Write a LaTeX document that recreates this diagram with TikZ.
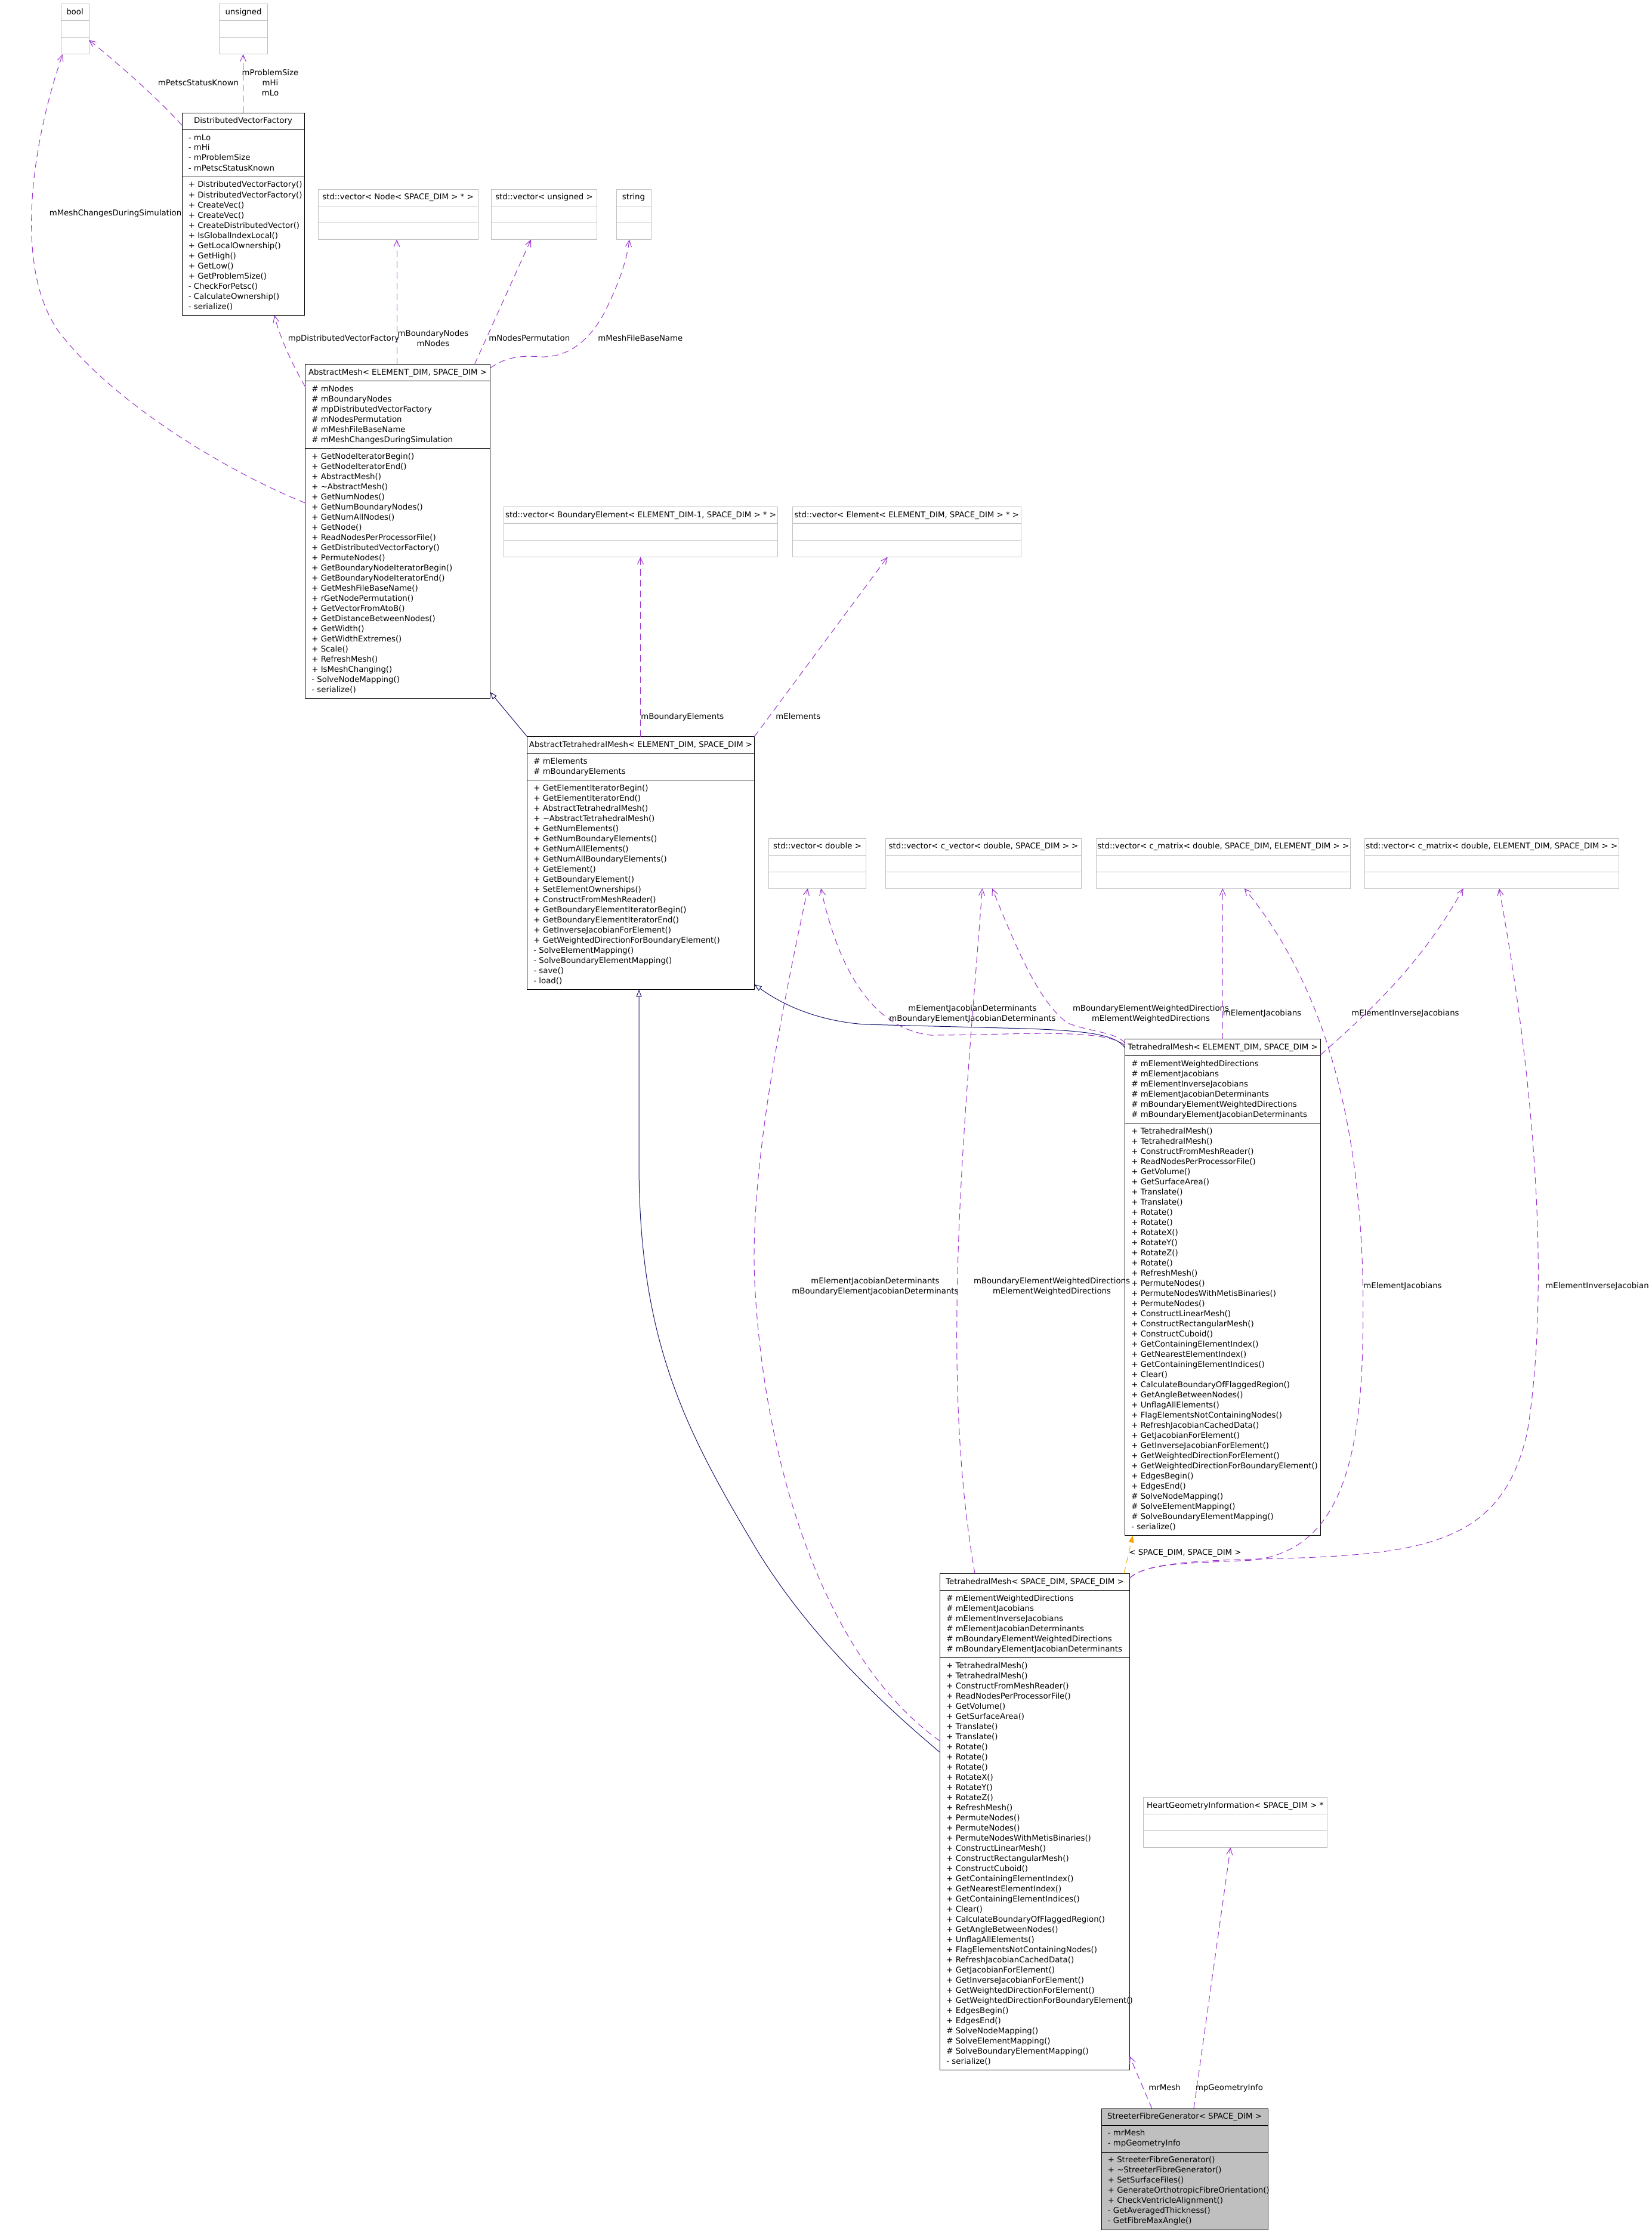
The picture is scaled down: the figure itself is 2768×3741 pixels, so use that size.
\documentclass[tikz,border=0pt]{standalone}
\usepackage{fontspec}
\setmainfont{DejaVu Sans}
\usetikzlibrary{arrows.meta,calc}
\definecolor{usecol}{HTML}{9A32CD}
\definecolor{inhcol}{HTML}{191970}
\definecolor{greyline}{HTML}{BFBFBF}
\definecolor{tmplcol}{HTML}{FFA500}
\newcommand\dfont{\fontsize{6.65pt}{8.5pt}\selectfont}
\tikzset{
  every node/.style={font=\dfont},
  classbox/.style={draw=black, fill=white, line width=0.5pt, inner sep=0, outer sep=0},
  mainbox/.style={draw=black, fill=greyline, line width=0.5pt, inner sep=0, outer sep=0},
  greybox/.style={draw=greyline, fill=white, line width=0.5pt, inner sep=0, outer sep=0},
  classsep/.style={draw=black, line width=0.5pt},
  greysep/.style={draw=greyline, line width=0.5pt},
  row/.style={anchor=west, inner sep=0, text height=5pt, text depth=1.5pt},
  hdr/.style={anchor=center, inner sep=0, text height=5pt, text depth=1.5pt},
  lbl/.style={anchor=west, inner sep=0, text height=5pt, text depth=1.5pt},
  clbl/.style={anchor=center, inner sep=0, align=center},
  usage/.style={draw=usecol, line width=0.5pt, dash pattern=on 5.5pt off 3.5pt, -{Straight Barb[length=5.5pt,width=5pt]}},
  inherit/.style={draw=inhcol, line width=0.5pt, -{Triangle[open,length=6pt,width=4.5pt]}},
  tmpl/.style={draw=tmplcol, line width=0.5pt, dash pattern=on 5.5pt off 3.5pt, -{Triangle[length=6pt,width=4.5pt]}},
}
% #1 style, #2 name, #3 x, #4 y, #5 width, #6 header; rows in \attrs and \meths
\newcommand\umlbox[6]{%
  \xdef\na{0}\xdef\nm{0}%
  \foreach \itm [count=\ci] in \attrs {\xdef\na{\ci}}%
  \foreach \itm [count=\ci] in \meths {\xdef\nm{\ci}}%
  \pgfmathsetmacro\uA{\na*17+11}%
  \pgfmathsetmacro\uH{28+\uA+\nm*17+11}%
  \node[#1, anchor=north west, minimum width=#5*0.5pt, minimum height=\uH*0.5pt] (#2) at (#3,#4) {};
  \draw[classsep] (#3,#4+28) -- ++(#5,0);
  \draw[classsep] (#3,#4+28+\uA) -- ++(#5,0);
  \node[hdr] at (#3+#5/2,#4+14) {#6};
  \foreach \itm [count=\ci] in \attrs {\node[row] at (#3+10.5,#4+42+17*\ci-17) {\itm};}
  \foreach \itm [count=\ci] in \meths {\node[row] at (#3+10.5,#4+42+\uA+17*\ci-17) {\itm};}
}
% #1 name, #2 x, #3 y, #4 width, #5 header
\newcommand\typebox[5]{%
  \node[greybox, anchor=north west, minimum width=#4*0.5pt, minimum height=42pt] (#1) at (#2,#3) {};
  \draw[greysep] (#2,#3+28) -- ++(#4,0);
  \draw[greysep] (#2,#3+56) -- ++(#4,0);
  \node[hdr] at (#2+#4/2,#3+14) {#5};
}
\begin{document}
\begin{tikzpicture}[x=0.5pt,y=-0.5pt]
\useasboundingbox (0,0) rectangle (2768,3741);
\fill[white] (0,0) rectangle (2768,3741);

% ---------- type boxes ----------
\typebox{bool}{102}{7}{47}{bool}
\typebox{uns}{367.5}{7}{81}{unsigned}
\typebox{vnode}{533}{317.5}{268}{std::vector< Node< SPACE\_DIM > * >}
\typebox{vuns}{823.5}{317.5}{177}{std::vector< unsigned >}
\typebox{str}{1033}{317.5}{58}{string}
\typebox{vbel}{844.5}{849.5}{459}{std::vector< BoundaryElement< ELEMENT\_DIM-1, SPACE\_DIM > * >}
\typebox{vel}{1328}{849.5}{383.5}{std::vector< Element< ELEMENT\_DIM, SPACE\_DIM > * >}
\typebox{vdbl}{1288.5}{1405}{163}{std::vector< double >}
\typebox{vcv}{1484.5}{1405}{328}{std::vector< c\_vector< double, SPACE\_DIM > >}
\typebox{cmse}{1837}{1405}{426.5}{std::vector< c\_matrix< double, SPACE\_DIM, ELEMENT\_DIM > >}
\typebox{cmes}{2287}{1405}{426.5}{std::vector< c\_matrix< double, ELEMENT\_DIM, SPACE\_DIM > >}
\typebox{heart}{1916.5}{3012.5}{307.5}{HeartGeometryInformation< SPACE\_DIM > *}

% ---------- class boxes ----------
\def\attrs{- mLo,- mHi,- mProblemSize,- mPetscStatusKnown}%
\def\meths{+ DistributedVectorFactory(),+ DistributedVectorFactory(),+ CreateVec(),+ CreateVec(),%
+ CreateDistributedVector(),+ IsGlobalIndexLocal(),+ GetLocalOwnership(),+ GetHigh(),+ GetLow(),%
+ GetProblemSize(),- CheckForPetsc(),- CalculateOwnership(),- serialize()}%
\umlbox{classbox}{dvf}{305}{189.5}{205}{DistributedVectorFactory}

\def\attrs{\# mNodes,\# mBoundaryNodes,\# mpDistributedVectorFactory,\# mNodesPermutation,%
\# mMeshFileBaseName,\# mMeshChangesDuringSimulation}%
\def\meths{+ GetNodeIteratorBegin(),+ GetNodeIteratorEnd(),+ AbstractMesh(),+ \textasciitilde AbstractMesh(),%
+ GetNumNodes(),+ GetNumBoundaryNodes(),+ GetNumAllNodes(),+ GetNode(),+ ReadNodesPerProcessorFile(),%
+ GetDistributedVectorFactory(),+ PermuteNodes(),+ GetBoundaryNodeIteratorBegin(),%
+ GetBoundaryNodeIteratorEnd(),+ GetMeshFileBaseName(),+ rGetNodePermutation(),+ GetVectorFromAtoB(),%
+ GetDistanceBetweenNodes(),+ GetWidth(),+ GetWidthExtremes(),+ Scale(),+ RefreshMesh(),%
+ IsMeshChanging(),- SolveNodeMapping(),- serialize()}%
\umlbox{classbox}{am}{511.5}{610.5}{310}{AbstractMesh< ELEMENT\_DIM, SPACE\_DIM >}

\def\attrs{\# mElements,\# mBoundaryElements}%
\def\meths{+ GetElementIteratorBegin(),+ GetElementIteratorEnd(),+ AbstractTetrahedralMesh(),%
+ \textasciitilde AbstractTetrahedralMesh(),+ GetNumElements(),+ GetNumBoundaryElements(),+ GetNumAllElements(),%
+ GetNumAllBoundaryElements(),+ GetElement(),+ GetBoundaryElement(),+ SetElementOwnerships(),%
+ ConstructFromMeshReader(),+ GetBoundaryElementIteratorBegin(),+ GetBoundaryElementIteratorEnd(),%
+ GetInverseJacobianForElement(),+ GetWeightedDirectionForBoundaryElement(),- SolveElementMapping(),%
- SolveBoundaryElementMapping(),- save(),- load()}%
\umlbox{classbox}{atm}{883.5}{1234.5}{381}{AbstractTetrahedralMesh< ELEMENT\_DIM, SPACE\_DIM >}

\def\attrs{\# mElementWeightedDirections,\# mElementJacobians,\# mElementInverseJacobians,%
\# mElementJacobianDeterminants,\# mBoundaryElementWeightedDirections,\# mBoundaryElementJacobianDeterminants}%
\def\meths{+ TetrahedralMesh(),+ TetrahedralMesh(),+ ConstructFromMeshReader(),+ ReadNodesPerProcessorFile(),%
+ GetVolume(),+ GetSurfaceArea(),+ Translate(),+ Translate(),+ Rotate(),+ Rotate(),+ RotateX(),+ RotateY(),%
+ RotateZ(),+ Rotate(),+ RefreshMesh(),+ PermuteNodes(),+ PermuteNodesWithMetisBinaries(),+ PermuteNodes(),%
+ ConstructLinearMesh(),+ ConstructRectangularMesh(),+ ConstructCuboid(),+ GetContainingElementIndex(),%
+ GetNearestElementIndex(),+ GetContainingElementIndices(),+ Clear(),+ CalculateBoundaryOfFlaggedRegion(),%
+ GetAngleBetweenNodes(),+ UnflagAllElements(),+ FlagElementsNotContainingNodes(),%
+ RefreshJacobianCachedData(),+ GetJacobianForElement(),+ GetInverseJacobianForElement(),%
+ GetWeightedDirectionForElement(),+ GetWeightedDirectionForBoundaryElement(),+ EdgesBegin(),+ EdgesEnd(),%
\# SolveNodeMapping(),\# SolveElementMapping(),\# SolveBoundaryElementMapping(),- serialize()}%
\umlbox{classbox}{tmes}{1885.5}{1741.5}{328}{TetrahedralMesh< ELEMENT\_DIM, SPACE\_DIM >}

\def\meths{+ TetrahedralMesh(),+ TetrahedralMesh(),+ ConstructFromMeshReader(),+ ReadNodesPerProcessorFile(),%
+ GetVolume(),+ GetSurfaceArea(),+ Translate(),+ Translate(),+ Rotate(),+ Rotate(),+ Rotate(),+ RotateX(),%
+ RotateY(),+ RotateZ(),+ RefreshMesh(),+ PermuteNodes(),+ PermuteNodes(),+ PermuteNodesWithMetisBinaries(),%
+ ConstructLinearMesh(),+ ConstructRectangularMesh(),+ ConstructCuboid(),+ GetContainingElementIndex(),%
+ GetNearestElementIndex(),+ GetContainingElementIndices(),+ Clear(),+ CalculateBoundaryOfFlaggedRegion(),%
+ GetAngleBetweenNodes(),+ UnflagAllElements(),+ FlagElementsNotContainingNodes(),%
+ RefreshJacobianCachedData(),+ GetJacobianForElement(),+ GetInverseJacobianForElement(),%
+ GetWeightedDirectionForElement(),+ GetWeightedDirectionForBoundaryElement(),+ EdgesBegin(),+ EdgesEnd(),%
\# SolveNodeMapping(),\# SolveElementMapping(),\# SolveBoundaryElementMapping(),- serialize()}%
\umlbox{classbox}{tmss}{1575.5}{2637.5}{318}{TetrahedralMesh< SPACE\_DIM, SPACE\_DIM >}

\def\attrs{- mrMesh,- mpGeometryInfo}%
\def\meths{+ StreeterFibreGenerator(),+ \textasciitilde StreeterFibreGenerator(),+ SetSurfaceFiles(),%
+ GenerateOrthotropicFibreOrientation(),+ CheckVentricleAlignment(),- GetAveragedThickness(),%
- GetFibreMaxAngle()}%
\umlbox{mainbox}{sfg}{1846}{3534}{279}{StreeterFibreGenerator< SPACE\_DIM >}

% ---------- connector end points ----------
\coordinate (bool-s) at ($(bool.north west)+(3,84)$);
\coordinate (bool-e) at ($(bool.north west)+(47,60)$);
\coordinate (uns-s) at ($(uns.north west)+(40,84)$);
\coordinate (dvf-w) at ($(dvf.north west)+(0,20.5)$);
\coordinate (dvf-n) at ($(dvf.north west)+(102.5,0)$);
\coordinate (dvf-s) at ($(dvf.north west)+(155,339)$);
\coordinate (vnode-s) at ($(vnode.north west)+(132,84)$);
\coordinate (vuns-s) at ($(vuns.north west)+(66.5,84)$);
\coordinate (str-s) at ($(str.north west)+(22,84)$);
\coordinate (am-w1) at ($(am.north west)+(0,232.5)$);
\coordinate (am-w2) at ($(am.north west)+(0,37.5)$);
\coordinate (am-n1) at ($(am.north west)+(153.5,0)$);
\coordinate (am-n2) at ($(am.north west)+(284,0)$);
\coordinate (am-ne) at ($(am.north west)+(310,6.5)$);
\coordinate (am-se) at ($(am.north west)+(310,549.5)$);
\coordinate (vbel-s) at ($(vbel.north west)+(229,84)$);
\coordinate (vel-s) at ($(vel.north west)+(159.7,84)$);
\coordinate (atm-n1) at ($(atm.north west)+(190,0)$);
\coordinate (atm-e) at ($(atm.north west)+(381,415.5)$);
\coordinate (atm-s) at ($(atm.north west)+(187.5,424)$);
\coordinate (vdbl-s1) at ($(vdbl.north west)+(65.5,84)$);
\coordinate (vdbl-s2) at ($(vdbl.north west)+(87.5,84)$);
\coordinate (vcv-s1) at ($(vcv.north west)+(162,84)$);
\coordinate (vcv-s2) at ($(vcv.north west)+(178.5,84)$);
\coordinate (cmse-s1) at ($(cmse.north west)+(212.3,84)$);
\coordinate (cmse-s2) at ($(cmse.north west)+(248.6,84)$);
\coordinate (cmes-s1) at ($(cmes.north west)+(165.7,84)$);
\coordinate (cmes-s2) at ($(cmes.north west)+(225.7,84)$);
\coordinate (tmes-w1) at ($(tmes.north west)+(0,14.5)$);
\coordinate (tmes-w2) at ($(tmes.north west)+(0,10.5)$);
\coordinate (tmes-w3) at ($(tmes.north west)+(0,6.5)$);
\coordinate (tmes-n1) at ($(tmes.north west)+(163.8,0)$);
\coordinate (tmes-ne) at ($(tmes.north west)+(328,26.5)$);
\coordinate (tmes-s) at ($(tmes.north west)+(13.2,832)$);
\coordinate (tmss-w1) at ($(tmss.north west)+(0,299.5)$);
\coordinate (tmss-w2) at ($(tmss.north west)+(0,280.5)$);
\coordinate (tmss-n1) at ($(tmss.north west)+(58.5,0)$);
\coordinate (tmss-n2) at ($(tmss.north west)+(308.5,0)$);
\coordinate (tmss-ne) at ($(tmss.north west)+(318,7.5)$);
\coordinate (tmss-e) at ($(tmss.north west)+(318,809)$);
\coordinate (heart-s) at ($(heart.north west)+(146,84)$);
\coordinate (sfg-n1) at ($(sfg.north west)+(84.8,0)$);
\coordinate (sfg-n2) at ($(sfg.north west)+(155,0)$);

% ---------- connectors ----------
\draw[usage] (am-w1) .. controls (380,790) and (200,680) .. (110,570) .. controls (20,470) and (50,250) .. (bool-s);
\node[clbl] at (193.5,358) {mMeshChangesDuringSimulation};
\draw[usage] (dvf-w) .. controls (260,160) and (190,100) .. (bool-e);
\node[clbl] at (332.5,138.5) {mPetscStatusKnown};
\draw[usage] (dvf-n) -- (uns-s);
\node[clbl] at (453,139) {mProblemSize\\mHi\\mLo};
\draw[usage] (am-w2) .. controls (495,620) and (470,570) .. (dvf-s);
\node[clbl] at (576,567.5) {mpDistributedVectorFactory};
\draw[usage] (am-n1) -- (vnode-s);
\node[clbl] at (726,567.5) {mBoundaryNodes\\mNodes};
\draw[usage] (am-n2) -- (vuns-s);
\node[lbl] at (819,567.5) {mNodesPermutation};
\draw[usage] (am-ne) .. controls (845,600) and (870,595) .. (906,598) .. controls (960,600) and (995,560) .. (1015,520) .. controls (1035,480) and (1050,440) .. (str-s);
\node[lbl] at (1002,567.5) {mMeshFileBaseName};

\draw[inherit] (atm.north west) -- (am-se);
\draw[usage] (atm-n1) -- (vbel-s);
\node[lbl] at (1074,1202) {mBoundaryElements};
\draw[usage] (atm.north east) -- (vel-s);
\node[lbl] at (1300,1202) {mElements};

\draw[inherit] (tmes-w1) .. controls (1870,1735) and (1830,1728) .. (1720,1724) -- (1450,1717) .. controls (1380,1712) and (1320,1690) .. (atm-e);
\draw[inherit] (tmss-w1) .. controls (1460,2840) and (1350,2730) .. (1270,2600) .. controls (1150,2400) and (1071,2250) .. (1071,1950) -- (atm-s);
\draw[tmpl] (tmss-n2) -- (tmes-s);
\node[lbl] at (1892,2603) {< SPACE\_DIM, SPACE\_DIM >};

\draw[usage] (tmes-w2) .. controls (1850,1722) and (1700,1735) .. (1560,1735) .. controls (1450,1722) and (1400,1600) .. (vdbl-s2);
\node[clbl] at (1630,1699) {mElementJacobianDeterminants\\mBoundaryElementJacobianDeterminants};
\draw[usage] (tmes-w3) .. controls (1870,1730) and (1830,1730) .. (1790,1715) .. controls (1740,1680) and (1700,1580) .. (vcv-s2);
\node[clbl] at (1929,1699) {mBoundaryElementWeightedDirections\\mElementWeightedDirections};
\draw[usage] (tmes-n1) -- (cmse-s1);
\node[lbl] at (2049.5,1699) {mElementJacobians};
\draw[usage] (tmes-ne) .. controls (2290,1700) and (2380,1620) .. (cmes-s1);
\node[lbl] at (2265,1699) {mElementInverseJacobians};

\draw[usage] (tmss-w2) .. controls (1380,2780) and (1280,2450) .. (1265,2150) .. controls (1255,1950) and (1320,1650) .. (vdbl-s1);
\node[clbl] at (1467,2156) {mElementJacobianDeterminants\\mBoundaryElementJacobianDeterminants};
\draw[usage] (tmss-n1) .. controls (1575,2300) and (1615,1900) .. (vcv-s1);
\node[clbl] at (1763,2156) {mBoundaryElementWeightedDirections\\mElementWeightedDirections};
\draw[usage] (tmss-ne) .. controls (1920,2620) and (1990,2620) .. (2100,2615) .. controls (2220,2600) and (2280,2500) .. (2284,2250) .. controls (2290,2000) and (2260,1700) .. (cmse-s2);
\node[lbl] at (2285,2156) {mElementJacobians};
\draw[usage] (tmss-ne) .. controls (1920,2620) and (2000,2615) .. (2150,2612) .. controls (2400,2605) and (2520,2580) .. (2560,2400) .. controls (2600,2150) and (2570,1800) .. (cmes-s2);
\node[lbl] at (2590,2156) {mElementInverseJacobian};

\draw[usage] (sfg-n1) -- (tmss-e);
\node[lbl] at (1925,3499.5) {mrMesh};
\draw[usage] (sfg-n2) -- (heart-s);
\node[lbl] at (2003.6,3499.5) {mpGeometryInfo};
\end{tikzpicture}
\end{document}
